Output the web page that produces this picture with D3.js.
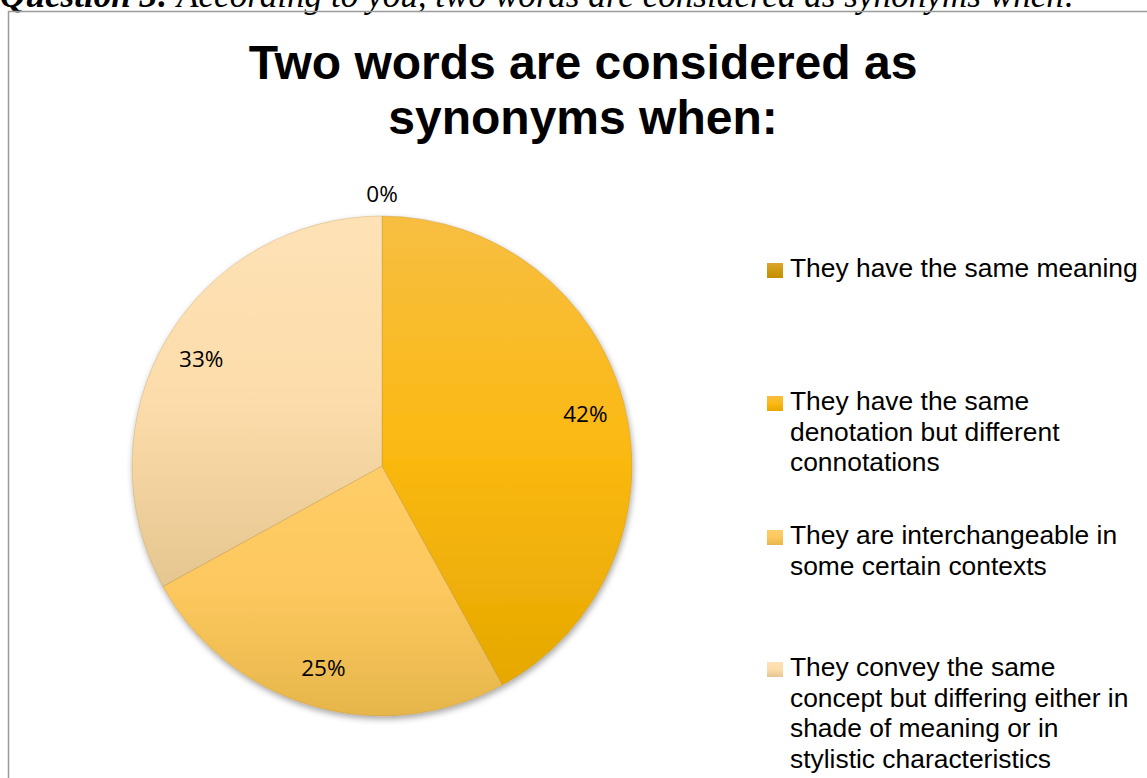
<!DOCTYPE html>
<html>
<head>
<meta charset="utf-8">
<script src="https://cdn.jsdelivr.net/npm/d3@7/dist/d3.min.js"></script>
<style>
  html, body { margin: 0; padding: 0; background: #fff; overflow: hidden; }
  svg { display: block; }
</style>
</head>
<body>
<svg id="chart" width="1147" height="778"></svg>
<script>
// Survey answers (share of respondents, %)
const categories = [
  "They have the same meaning",
  "They have the same denotation but different connotations",
  "They are interchangeable in some certain contexts",
  "They convey the same concept but differing either in shade of meaning or in stylistic characteristics"
];
const values = [0, 42, 25, 33];
const valueLabels = ["0%", "42%", "25%", "33%"];

// Legend text, as wrapped lines
const legendLines = [
  ["They have the same meaning"],
  ["They have the same", "denotation but different", "connotations"],
  ["They are interchangeable in", "some certain contexts"],
  ["They convey the same", "concept but differing either in", "shade of meaning or in", "stylistic characteristics"]
];

// Slice fills: [top, middle, bottom] of a vertical gradient
const sliceColors = [
  ["#dba62c", "#cf9a10", "#c48e00"],
  ["#f7be42", "#fbb912", "#e6a800"],
  ["#ffcd68", "#fcc85e", "#e6b64b"],
  ["#fee2b6", "#fcdcaa", "#e5c690"]
];

const titleLines = ["Two words are considered as", "synonyms when:"];
const caption = { bold: "Question 3:", rest: " According to you, two words are considered as synonyms when:" };

const svg = d3.select("#chart");
const defs = svg.append("defs");

// Gradients
sliceColors.forEach((c, i) => {
  const g = defs.append("linearGradient")
    .attr("id", "grad" + i)
    .attr("x1", 0).attr("y1", 0).attr("x2", 0).attr("y2", 1);
  g.append("stop").attr("offset", "0%").attr("stop-color", c[0]);
  g.append("stop").attr("offset", "50%").attr("stop-color", c[1]);
  g.append("stop").attr("offset", "100%").attr("stop-color", c[2]);
});

// Soft shadow under the pie
const f = defs.append("filter").attr("id", "pieShadow")
  .attr("x", "-10%").attr("y", "-10%").attr("width", "120%").attr("height", "120%");
f.append("feDropShadow").attr("dx", 1).attr("dy", 3).attr("stdDeviation", 3)
  .attr("flood-color", "#000").attr("flood-opacity", 0.35);

// Caption above the frame (runs off the page top)
const cap = svg.append("text")
  .attr("x", 0).attr("y", 7)
  .style("font-family", "'Liberation Serif', 'Times New Roman', serif")
  .style("font-style", "italic")
  .style("font-size", "32px")
  .attr("fill", "#000");
cap.append("tspan").style("font-weight", "bold").text(caption.bold);
cap.append("tspan").text(caption.rest);
// fit the caption to its line width
const capW = cap.node().getComputedTextLength();
cap.style("font-size", (32 * 1076 / capW).toFixed(2) + "px");

// Frame
svg.append("rect")
  .attr("x", 8.5).attr("y", 11.5)
  .attr("width", 1200).attr("height", 800)
  .attr("fill", "none")
  .attr("stroke", "#9a9a9a")
  .attr("stroke-width", 1.5);

// Title
svg.append("g").selectAll("text")
  .data(titleLines)
  .join("text")
  .attr("x", 583)
  .attr("y", (d, i) => 79 + i * 55)
  .attr("text-anchor", "middle")
  .style("font-family", "'Liberation Sans', Arial, sans-serif")
  .style("font-weight", "bold")
  .style("font-size", "48px")
  .attr("fill", "#000")
  .text(d => d);

// Pie
const cx = 382, cy = 466, R = 250;
const pie = d3.pie().sort(null).value(d => d)(values);
const arc = d3.arc().innerRadius(0).outerRadius(R);
const labelArc = d3.arc().innerRadius(R * 0.84).outerRadius(R * 0.84);

const gPie = svg.append("g").attr("transform", `translate(${cx},${cy})`);
gPie.append("g").attr("filter", "url(#pieShadow)")
  .selectAll("path")
  .data(pie.filter(d => d.value > 0))
  .join("path")
  .attr("d", arc)
  .attr("fill", d => `url(#grad${d.index})`)
  .attr("stroke", "rgba(170,130,50,0.35)")
  .attr("stroke-width", 0.8);

gPie.append("g").selectAll("text")
  .data(pie)
  .join("text")
  .attr("transform", d => {
    if (d.value === 0) {
      const a = d.startAngle;
      return `translate(${Math.sin(a) * (R + 22)},${-Math.cos(a) * (R + 22)})`;
    }
    return `translate(${labelArc.centroid(d)})`;
  })
  .attr("text-anchor", "middle")
  .attr("dy", "0.36em")
  .style("font-family", "'Open Sans', 'Noto Sans', sans-serif")
  .style("font-size", "22.5px")
  .attr("fill", "#000")
  .text(d => valueLabels[d.index]);

// Legend
const legendTops = [277, 410, 544, 676];
const lineH = 30.7;
const gLeg = svg.append("g");
legendLines.forEach((lines, i) => {
  const g = gLeg.append("g");
  g.append("rect")
    .attr("x", 767).attr("y", legendTops[i] - 14)
    .attr("width", 16).attr("height", 15)
    .attr("fill", `url(#grad${i})`);
  g.append("text")
    .style("font-family", "'Liberation Sans', Arial, sans-serif")
    .style("font-size", "26.4px")
    .attr("fill", "#000")
    .selectAll("tspan")
    .data(lines)
    .join("tspan")
    .attr("x", 790)
    .attr("y", (d, j) => legendTops[i] + j * lineH)
    .text(d => d);
});
</script>
</body>
</html>
